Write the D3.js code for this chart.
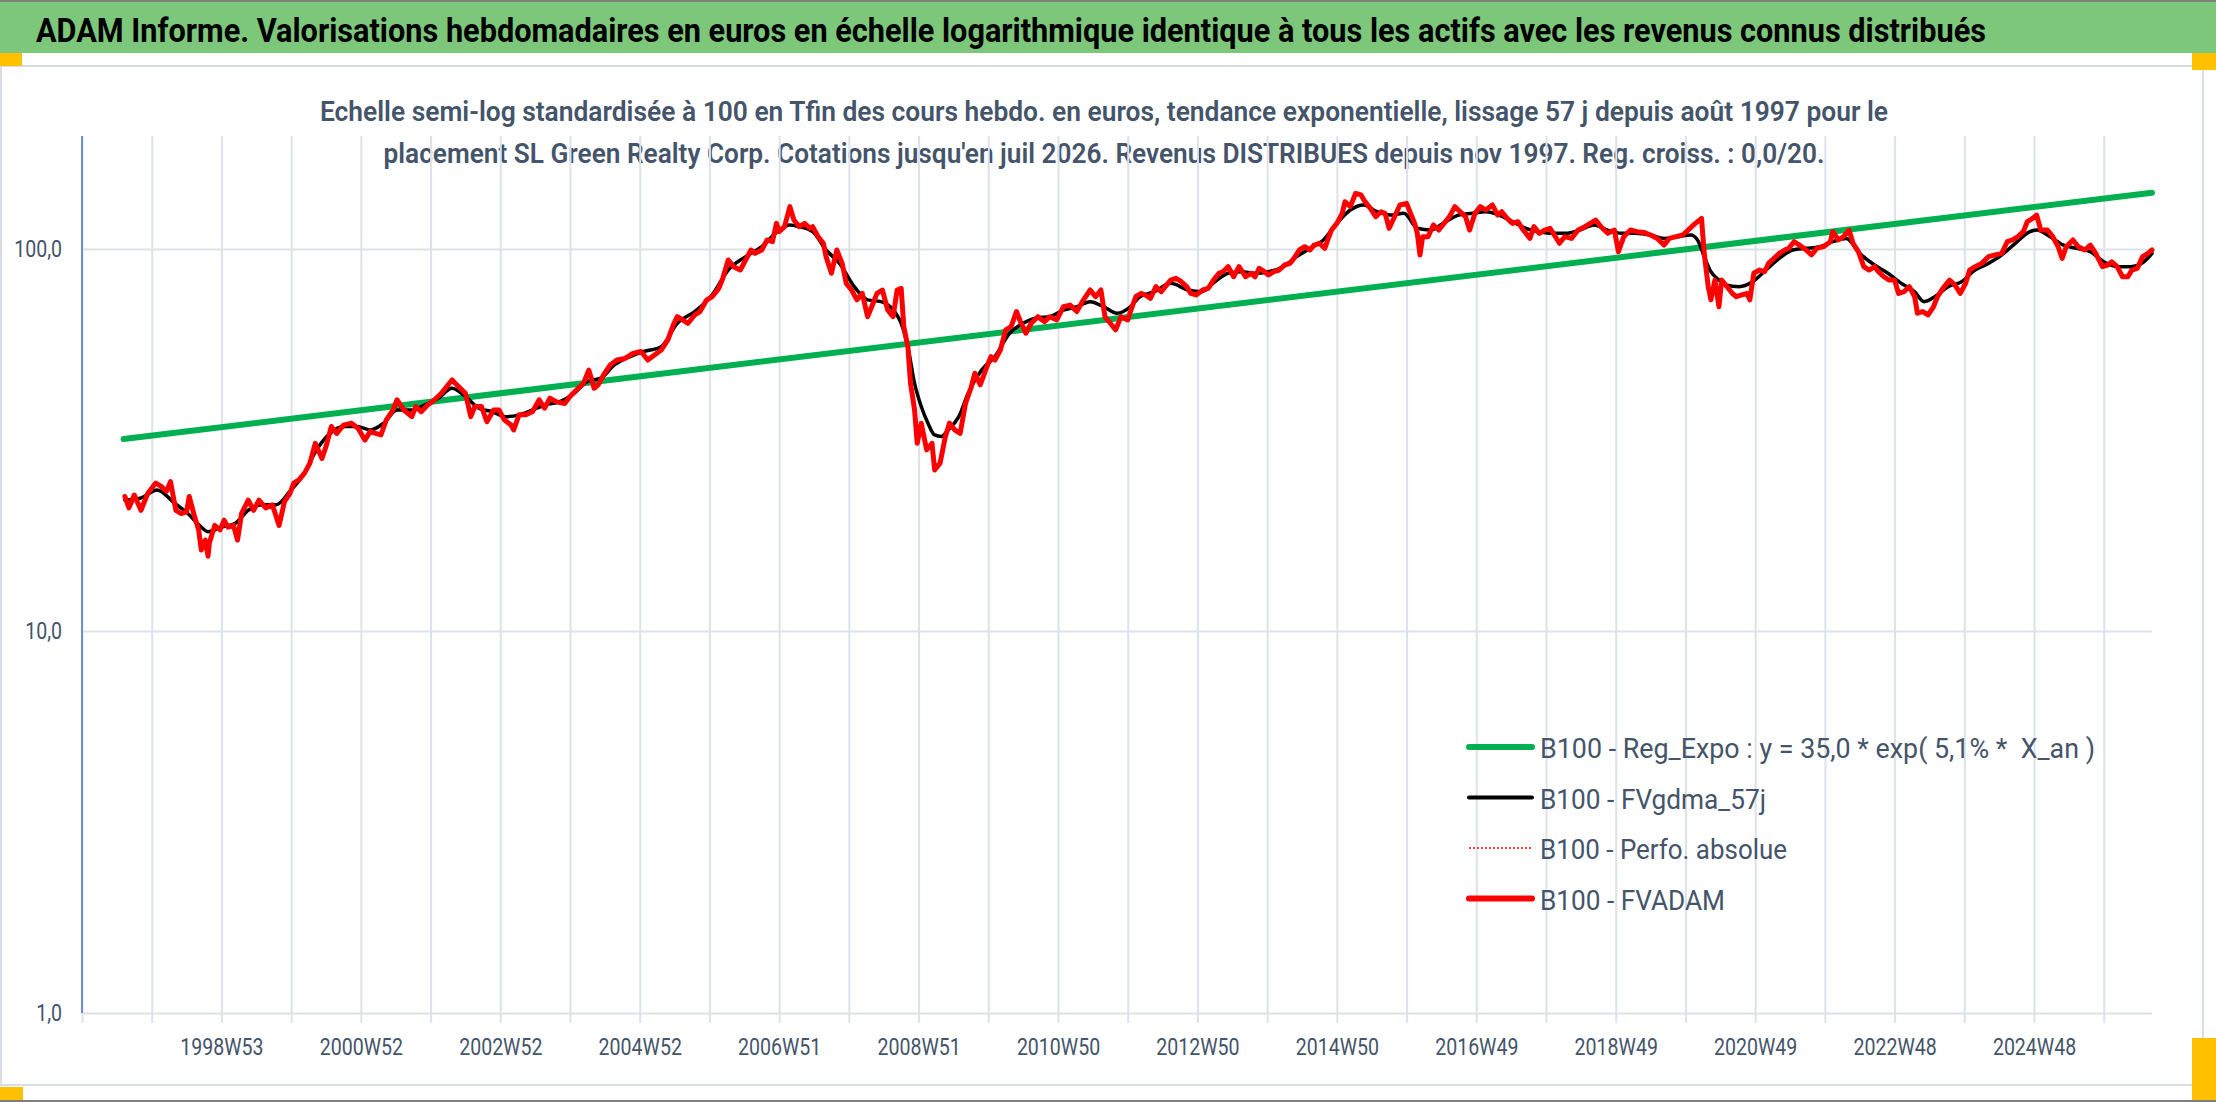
<!DOCTYPE html>
<html>
<head>
<meta charset="utf-8">
<script src="https://cdn.jsdelivr.net/npm/d3@7"></script>
<style>
  html, body { margin: 0; padding: 0; background: #fff; }
  svg { display: block; }
  text { font-family: Roboto, "Noto Sans", sans-serif; }
</style>
</head>
<body>
<script>
var svg_width = 2216, svg_height = 1102;
var plot_left = 82, plot_right = 2152, plot_top = 136, plot_bottom = 1013;
var y_at_100 = 249;
var weeks_total = 1544;

var title_text = "ADAM Informe. Valorisations hebdomadaires en euros en échelle logarithmique identique à tous les actifs avec les revenus connus distribués";
var subtitle_lines = [
  "Echelle semi-log standardisée à 100 en Tfin des cours hebdo. en euros, tendance exponentielle, lissage 57 j depuis août 1997 pour le",
  "placement SL Green Realty Corp. Cotations jusqu'en juil 2026. Revenus DISTRIBUES depuis nov 1997. Reg. croiss. : 0,0/20."
];

// week index 0 = 1997W01
var x_labels = ["1998W53", "2000W52", "2002W52", "2004W52", "2006W51", "2008W51", "2010W50",
                "2012W50", "2014W50", "2016W49", "2018W49", "2020W49", "2022W48", "2024W48"];
var y_ticks = [1, 10, 100];
var y_tick_labels = ["1,0", "10,0", "100,0"];

var legend_labels = ["B100 - Reg_Expo : y = 35,0 * exp( 5,1% *  X_an )",
                     "B100 - FVgdma_57j",
                     "B100 - Perfo. absolue",
                     "B100 - FVADAM"];

// [week index, value]
var reg_expo = [[31, 31.8], [1544, 140.4]];

var fvgdma_57j = [
  [32,22.0],[44,22.3],[56,23.4],[69,21.6],[79,20.3],[89,18.7],[94,18.2],[104,18.7],[114,19.1],[124,20.7],
  [135,21.4],[145,21.4],[155,23.2],[165,25.6],[175,29.8],[185,32.9],[195,34.3],[205,34.3],[215,33.6],[225,35.0],
  [235,37.9],[246,37.9],[256,39.1],[266,40.7],[276,43.2],[286,41.1],[296,38.3],[306,37.5],[316,36.4],[326,36.8],
  [336,37.9],[346,39.1],[356,39.8],[367,41.9],[377,45.0],[387,45.9],[397,49.7],[409,52.3],[419,53.9],[432,55.5],
  [444,63.9],[457,68.6],[470,75.8],[482,88.1],[495,95.5],[507,101.4],[520,112.1],[528,115.6],[535,114.4],[545,111.0],
  [555,99.4],[565,91.7],[576,79.7],[586,73.6],[596,72.8],[606,68.6],[611,63.9],[616,55.5],[621,44.5],[626,38.7],
  [631,35.0],[636,32.6],[641,32.3],[646,33.6],[654,36.4],[661,41.9],[671,48.2],[681,52.3],[692,60.2],[702,63.9],
  [712,66.0],[722,66.5],[732,69.2],[742,70.6],[752,72.8],[762,70.6],[772,67.9],[782,70.6],[789,75.0],[800,77.3],
  [812,81.3],[825,78.1],[835,77.3],[845,82.1],[855,86.4],[865,87.2],[875,86.4],[885,87.2],[896,89.9],[906,95.5],
  [916,100.4],[926,105.6],[936,116.7],[946,126.5],[956,130.4],[966,125.2],[976,122.7],[986,124.0],[996,113.3],[1006,112.1],
  [1017,117.9],[1027,122.7],[1037,124.0],[1047,125.2],[1057,122.7],[1067,117.9],[1077,113.3],[1087,111.0],[1097,109.9],[1107,109.9],
  [1117,112.1],[1128,115.6],[1138,112.1],[1148,109.9],[1158,109.9],[1170,108.8],[1180,106.6],[1190,107.7],[1200,108.8],[1205,105.6],
  [1210,95.5],[1215,87.2],[1221,82.9],[1226,80.5],[1236,79.7],[1246,82.1],[1256,88.1],[1266,94.5],[1276,99.4],[1286,100.4],
  [1296,101.4],[1306,104.5],[1316,106.6],[1326,97.4],[1337,90.8],[1347,86.4],[1357,81.3],[1367,77.3],[1374,72.8],[1382,75.0],
  [1392,79.7],[1402,82.1],[1412,88.1],[1422,91.7],[1432,96.5],[1442,103.5],[1453,111.0],[1458,112.1],[1468,107.7],[1478,102.4],
  [1488,100.4],[1498,98.4],[1508,92.6],[1518,89.9],[1528,89.9],[1538,92.6],[1544,97.4]
];

var fvadam = [
  [32,22.5],[35,21.0],[39,22.7],[44,20.7],[49,22.9],[55,24.4],[59,23.9],[63,23.2],[66,24.6],[70,20.7],
  [74,20.3],[78,20.5],[80,22.5],[84,19.9],[87,18.4],[89,16.3],[92,17.3],[94,15.7],[95,17.0],[99,18.9],
  [103,18.4],[106,19.5],[109,18.7],[113,18.9],[116,17.3],[119,20.3],[124,22.0],[128,20.7],[132,22.0],[137,21.0],
  [142,21.4],[147,18.9],[151,21.8],[155,22.9],[158,24.4],[162,24.9],[166,25.9],[170,27.5],[174,31.0],[179,28.3],
  [182,30.4],[186,34.3],[190,32.9],[195,34.6],[201,35.0],[206,33.9],[211,31.6],[215,33.3],[219,32.9],[223,32.6],
  [227,35.7],[232,37.9],[235,40.3],[240,37.9],[246,36.4],[249,38.7],[253,37.5],[258,39.1],[263,40.3],[268,41.9],
  [276,45.4],[281,43.6],[286,41.9],[290,36.4],[293,38.7],[298,38.7],[302,35.3],[307,37.9],[311,37.9],[315,35.7],
  [320,34.6],[322,33.6],[326,36.8],[331,36.8],[336,37.5],[341,40.3],[345,38.3],[349,40.7],[354,39.8],[360,39.4],
  [364,41.1],[369,42.8],[374,44.5],[378,48.2],[382,43.2],[385,44.1],[389,46.8],[394,49.7],[399,51.2],[405,51.7],
  [411,53.3],[417,53.9],[422,51.2],[427,52.8],[432,54.4],[437,57.8],[441,63.2],[444,66.5],[448,65.2],[452,63.9],
  [457,67.2],[461,68.6],[466,73.6],[470,75.0],[475,78.9],[478,83.8],[482,93.6],[486,89.9],[491,88.1],[495,93.6],
  [499,99.4],[502,97.4],[507,99.4],[511,105.6],[515,104.5],[518,116.7],[520,111.0],[524,114.4],[528,129.1],[531,119.1],
  [535,114.4],[539,116.7],[543,113.3],[545,114.4],[549,107.7],[553,103.5],[555,95.5],[559,86.4],[563,99.4],[567,91.7],
  [570,81.3],[574,78.1],[578,73.6],[582,76.5],[586,66.5],[589,70.6],[593,76.5],[597,78.1],[601,69.2],[605,66.5],
  [608,78.1],[611,78.9],[613,62.6],[616,55.5],[618,44.5],[621,37.9],[623,31.0],[626,35.0],[630,29.8],[634,31.0],
  [636,26.4],[640,27.5],[644,32.3],[647,35.0],[651,33.6],[655,32.9],[659,39.4],[663,43.2],[666,47.3],[670,44.1],
  [674,48.2],[678,52.3],[681,51.2],[685,54.4],[689,61.4],[693,62.6],[697,68.6],[700,64.5],[704,60.2],[708,63.9],
  [713,66.5],[718,64.5],[722,66.5],[727,65.2],[732,70.6],[737,71.3],[742,68.6],[747,73.6],[752,78.1],[756,75.0],
  [760,78.1],[763,66.5],[767,63.9],[771,61.4],[775,66.5],[780,65.2],[782,68.6],[786,75.0],[790,76.5],[793,75.8],
  [797,74.3],[801,79.7],[805,77.3],[808,79.7],[812,82.9],[816,83.8],[820,82.1],[824,79.7],[827,76.5],[831,75.8],
  [836,78.1],[840,78.9],[844,82.9],[848,86.4],[851,87.2],[855,89.9],[859,84.6],[863,89.9],[868,84.6],[872,86.4],
  [875,84.6],[878,89.0],[882,87.2],[885,85.5],[889,87.2],[893,88.1],[897,90.8],[901,91.7],[904,94.5],[908,99.4],
  [912,101.4],[916,99.4],[919,102.4],[923,103.5],[927,100.4],[930,107.7],[932,112.1],[936,116.7],[940,124.0],[942,133.0],
  [946,129.1],[950,139.9],[954,138.5],[957,133.0],[961,127.8],[965,121.5],[969,125.2],[972,124.0],[975,113.3],[979,121.5],
  [983,130.4],[988,131.7],[991,124.0],[994,116.7],[996,109.9],[998,96.5],[1000,107.7],[1004,107.7],[1008,115.6],[1012,112.1],
  [1015,115.6],[1020,121.5],[1024,129.1],[1028,125.2],[1032,121.5],[1035,112.1],[1039,124.0],[1043,129.1],[1047,126.5],[1052,130.4],
  [1056,122.7],[1059,125.2],[1063,120.3],[1067,116.7],[1071,117.9],[1075,112.1],[1080,106.6],[1083,114.4],[1087,109.9],[1091,112.1],
  [1095,113.3],[1099,107.7],[1102,103.5],[1106,107.7],[1111,106.6],[1116,112.1],[1121,114.4],[1125,116.7],[1129,119.1],[1133,114.4],
  [1138,109.9],[1143,112.1],[1146,98.4],[1150,107.7],[1155,112.1],[1160,111.0],[1165,110.5],[1170,108.8],[1175,106.6],[1180,102.4],
  [1184,106.6],[1189,107.7],[1194,108.8],[1198,112.1],[1202,115.6],[1205,117.9],[1208,120.3],[1210,97.4],[1213,79.7],[1215,73.6],
  [1218,82.9],[1221,70.6],[1223,82.9],[1227,79.7],[1231,76.5],[1234,75.0],[1238,75.8],[1242,76.5],[1244,73.6],[1247,86.4],
  [1251,88.1],[1255,87.2],[1258,91.7],[1262,94.5],[1266,97.4],[1270,99.4],[1273,100.4],[1277,104.5],[1281,102.4],[1286,99.4],
  [1290,96.5],[1294,100.4],[1299,101.4],[1304,104.5],[1306,111.0],[1310,105.6],[1314,107.7],[1318,112.1],[1321,103.5],[1325,98.4],
  [1329,89.9],[1333,88.1],[1337,89.9],[1340,87.2],[1344,84.6],[1348,82.9],[1352,82.9],[1355,76.5],[1359,77.3],[1363,79.7],
  [1367,75.0],[1369,67.9],[1373,68.6],[1377,67.2],[1381,70.6],[1384,75.0],[1388,78.9],[1393,82.9],[1397,80.5],[1401,76.5],
  [1405,81.3],[1408,88.1],[1412,89.9],[1417,91.7],[1422,95.5],[1427,96.5],[1432,97.4],[1436,104.5],[1440,105.6],[1444,107.7],
  [1448,111.0],[1451,117.9],[1455,120.3],[1458,122.7],[1461,112.1],[1466,112.1],[1470,107.7],[1474,101.4],[1477,94.5],[1480,101.4],
  [1485,105.6],[1489,101.4],[1494,99.4],[1498,102.4],[1502,97.4],[1507,89.9],[1511,90.8],[1514,92.6],[1518,89.9],[1522,84.6],
  [1526,84.6],[1529,88.1],[1533,89.0],[1537,95.5],[1541,97.4],[1544,99.4]
];

// perfo absolue runs under FVADAM
var perfo_absolue = fvadam;

var green = "#00B050", red = "#FF0000", black = "#000000";
var text_color = "#44546A", grid_color = "#DDE2EA", orange = "#FFC000";

var svg = d3.select("body").append("svg")
  .attr("width", svg_width).attr("height", svg_height);

// frame
svg.append("rect").attr("x", 0).attr("y", 0).attr("width", svg_width).attr("height", svg_height).attr("fill", "#fff");
svg.append("rect").attr("x", 1).attr("y", 66).attr("width", 2202).attr("height", 1019)
  .attr("fill", "none").attr("stroke", "#D9DCE1").attr("stroke-width", 2);
svg.append("rect").attr("x", 0).attr("y", 0).attr("width", svg_width).attr("height", 53).attr("fill", "#7DC77B");
svg.append("line").attr("x1", 0).attr("x2", svg_width).attr("y1", 1).attr("y2", 1)
  .attr("stroke", "#7F7F7F").attr("stroke-width", 2);
svg.append("line").attr("x1", 0).attr("x2", svg_width).attr("y1", 1101).attr("y2", 1101)
  .attr("stroke", "#7F7F7F").attr("stroke-width", 2);
[[0, 53, 22, 13], [2192, 53, 24, 17], [0, 1087, 23, 13], [2192, 1038, 24, 62]].forEach(function(r) {
  svg.append("rect").attr("x", r[0]).attr("y", r[1]).attr("width", r[2]).attr("height", r[3]).attr("fill", orange);
});

svg.append("text").text(title_text)
  .attr("x", 36).attr("y", 42)
  .attr("fill", "#000").style("font-size", "33px").style("font-weight", 700)
  .attr("textLength", 1950).attr("lengthAdjust", "spacingAndGlyphs");

var subtitle_widths = [1568, 1441];
svg.selectAll(".subtitle").data(subtitle_lines).enter().append("text")
  .attr("class", "subtitle")
  .text(function(d) { return d; })
  .attr("x", 1104).attr("y", function(d, i) { return 121 + i * 42; })
  .attr("text-anchor", "middle")
  .attr("fill", text_color).style("font-size", "28px").style("font-weight", 600)
  .attr("textLength", function(d, i) { return subtitle_widths[i]; })
  .attr("lengthAdjust", "spacingAndGlyphs");

var x = d3.scaleLinear().domain([0, weeks_total]).range([plot_left, plot_right]);
var y = d3.scaleLog().domain([1, 100]).range([plot_bottom, y_at_100]);

function condense(sel, k) {
  sel.each(function() {
    var w = this.getComputedTextLength();
    d3.select(this).attr("textLength", w * k).attr("lengthAdjust", "spacingAndGlyphs");
  });
}

// vertical grid + tick marks below the baseline
var xgrid = svg.append("g")
  .attr("transform", "translate(0," + (plot_bottom + 10) + ")")
  .call(d3.axisBottom(x).tickValues(d3.range(0, 1509, 52))
        .tickSize(-(plot_bottom + 10 - plot_top)).tickSizeOuter(0).tickFormat(""));
xgrid.select(".domain").remove();
xgrid.selectAll("line").attr("stroke", grid_color).attr("stroke-width", 2);

// horizontal grid
var ygrid = svg.append("g")
  .attr("transform", "translate(" + plot_left + ",0)")
  .call(d3.axisLeft(y).tickValues(y_ticks).tickSize(-(plot_right - plot_left)).tickFormat(""));
ygrid.select(".domain").remove();
ygrid.selectAll("line").attr("stroke", grid_color).attr("stroke-width", 2);

// y axis
var yaxis = svg.append("g")
  .attr("transform", "translate(" + plot_left + ",0)")
  .call(d3.axisLeft(y).tickValues(y_ticks).tickSize(0).tickPadding(20)
        .tickFormat(function(d, i) { return y_tick_labels[i]; }));
yaxis.select(".domain").remove();
yaxis.selectAll("text").attr("fill", text_color).attr("font-family", null).style("font-size", "23px");
condense(yaxis.selectAll("text"), 0.85);
svg.append("line").attr("x1", plot_left).attr("x2", plot_left).attr("y1", plot_top).attr("y2", plot_bottom)
  .attr("stroke", "#4472C4").attr("stroke-width", 1.5);

// x labels
var xaxis = svg.append("g")
  .attr("transform", "translate(0," + plot_bottom + ")")
  .call(d3.axisBottom(x).tickValues(d3.range(104, 1509, 104)).tickSize(0)
        .tickFormat(function(d, i) { return x_labels[i]; }));
xaxis.select(".domain").remove();
xaxis.selectAll("text").attr("fill", text_color).attr("font-family", null)
  .attr("y", 42).attr("dy", 0).style("font-size", "23px");
condense(xaxis.selectAll("text"), 0.85);

// series
var line = d3.line().x(function(d) { return x(d[0]); }).y(function(d) { return y(d[1]); });
var smooth = d3.line().curve(d3.curveMonotoneX)
  .x(function(d) { return x(d[0]); }).y(function(d) { return y(d[1]); });

var series = svg.append("g").attr("fill", "none")
  .attr("stroke-linejoin", "round").attr("stroke-linecap", "round");
series.append("path").datum(reg_expo).attr("d", line).attr("stroke", green).attr("stroke-width", 6);
series.append("path").datum(fvgdma_57j).attr("d", smooth).attr("stroke", black).attr("stroke-width", 3.5);
series.append("path").datum(perfo_absolue).attr("d", line).attr("stroke", red).attr("stroke-width", 1.5)
  .attr("stroke-dasharray", "2,2");
series.append("path").datum(fvadam).attr("d", line).attr("stroke", red).attr("stroke-width", 5);

// legend
var legend_styles = [
  { stroke: green, width: 6, dash: null },
  { stroke: black, width: 4, dash: null },
  { stroke: red, width: 1.5, dash: "2,2" },
  { stroke: red, width: 6, dash: null }
];
var legend_widths = [555, 226, 247, 185];
var legend = svg.append("g");
legend_labels.forEach(function(label, i) {
  var cy = 747 + i * 50.5;
  var st = legend_styles[i];
  legend.append("line").attr("x1", 1469).attr("x2", 1532).attr("y1", cy).attr("y2", cy)
    .attr("stroke", st.stroke).attr("stroke-width", st.width)
    .attr("stroke-linecap", st.dash ? "butt" : "round")
    .attr("stroke-dasharray", st.dash);
  legend.append("text").text(label)
    .attr("x", 1540).attr("y", cy + 11)
    .attr("fill", text_color).style("font-size", "27px").style("white-space", "pre")
    .attr("textLength", legend_widths[i]).attr("lengthAdjust", "spacingAndGlyphs");
});
</script>
</body>
</html>
